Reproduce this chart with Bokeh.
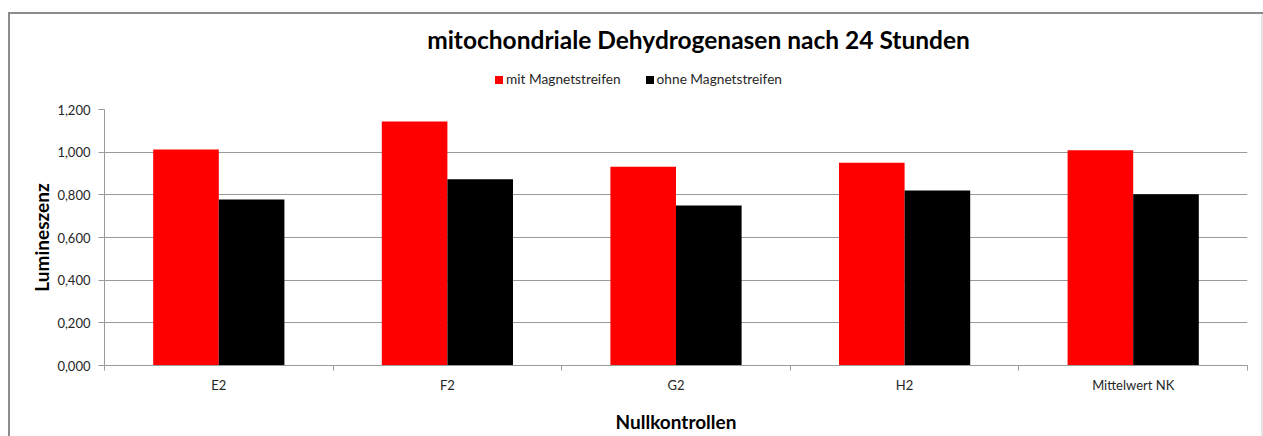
from bokeh.plotting import figure
from bokeh.models import (Range1d, LinearAxis, FixedTicker, ColumnDataSource, Div)
from bokeh.layouts import column
from bokeh.transform import dodge
from bokeh.embed import file_html
from bokeh.resources import INLINE

categories = ["E2", "F2", "G2", "H2", "Mittelwert NK"]
mit_magnet = [1.012, 1.144, 0.932, 0.950, 1.009]
ohne_magnet = [0.778, 0.873, 0.750, 0.820, 0.803]
series_names = ["mit Magnetstreifen", "ohne Magnetstreifen"]
series_colors = ["#FF0000", "#000000"]
y_ticks = [0.0, 0.2, 0.4, 0.6, 0.8, 1.0, 1.2]
y_tick_labels = ["0,000", "0,200", "0,400", "0,600", "0,800", "1,000", "1,200"]
title_text = "mitochondriale Dehydrogenasen nach 24 Stunden"
x_title = "Nullkontrollen"
y_title = "Lumineszenz"

FONT = "Lato"
TXT = "#262626"
GRID = "#9a9a9a"
HEAD_H = 99

n = len(categories)
centers = [i + 0.5 for i in range(n)]
boundaries = list(range(n + 1))
src = ColumnDataSource(dict(x=centers, cat=categories, mit=mit_magnet, ohne=ohne_magnet))

# ---- header: title + legend (HTML text) ----
legend_html = ""
for i, (name, col) in enumerate(zip(series_names, series_colors)):
    ml = "0px" if i == 0 else "25px"
    legend_html += (f'<span style="display:inline-block;width:8px;height:8px;background:{col};'
                    f'margin-left:{ml};margin-right:3px;vertical-align:0px"></span>{name}')
head_html = (
    f'<div style="position:relative;width:1263px;height:{HEAD_H}px;margin:0;padding:0">'
    f'<div style="position:absolute;left:0;top:25px;width:1263px;box-sizing:border-box;'
    f'padding-left:134px;text-align:center;font-family:{FONT};font-weight:bold;font-size:24.5px;'
    f'line-height:30px;color:#000000;white-space:nowrap">{title_text}</div>'
    f'<div style="position:absolute;left:495px;top:71px;font-family:{FONT};font-size:13.7px;'
    f'line-height:16px;color:{TXT};white-space:nowrap">{legend_html}</div>'
    f'</div>'
)
head = Div(text=head_html, width=1263, height=HEAD_H, margin=0)

p = figure(width=1263, height=436 - HEAD_H, x_range=Range1d(0, n), y_range=Range1d(0, 1.2),
           output_backend="svg", toolbar_location=None,
           x_axis_location=None, y_axis_location=None,
           min_border_left=104, min_border_right=16, min_border_top=10, min_border_bottom=71)
p.margin = 0
p.outline_line_color = None
p.border_fill_color = None
p.background_fill_color = "#ffffff"
p.xgrid.visible = False
p.ygrid.ticker = FixedTicker(ticks=y_ticks)
p.ygrid.grid_line_color = GRID
p.ygrid.grid_line_width = 1

r1 = p.vbar(x=dodge("x", -0.1435), top="mit", width=0.287, source=src,
            fill_color=series_colors[0], line_color=None)
r2 = p.vbar(x=dodge("x", 0.1435), top="ohne", width=0.287, source=src,
            fill_color=series_colors[1], line_color=None)

# y axis
yax = LinearAxis(ticker=FixedTicker(ticks=y_ticks),
                 major_label_overrides={t: l for t, l in zip(y_ticks, y_tick_labels)})
yax.axis_line_color = GRID
yax.major_tick_line_color = GRID
yax.major_tick_out = 6
yax.major_tick_in = 0
yax.minor_tick_line_color = None
yax.major_label_standoff = 8
yax.major_label_text_font = FONT
yax.major_label_text_font_size = "13px"
yax.major_label_text_color = TXT
yax.axis_label = y_title
yax.axis_label_text_font = FONT
yax.axis_label_text_font_size = "19px"
yax.axis_label_text_font_style = "bold"
yax.axis_label_text_color = "#000000"
yax.axis_label_standoff = 1
p.add_layout(yax, "left")

# boundary ticks axis
nax = LinearAxis(ticker=FixedTicker(ticks=boundaries))
nax.axis_line_color = GRID
nax.major_tick_line_color = GRID
nax.major_tick_out = 5
nax.major_tick_in = 0
nax.minor_tick_line_color = None
nax.major_label_text_font_size = "0px"
nax.major_label_text_alpha = 0
nax.major_label_standoff = 0
p.add_layout(nax, "below")

# category label axis
cax = LinearAxis(ticker=FixedTicker(ticks=centers),
                 major_label_overrides={c: l for c, l in zip(centers, categories)})
cax.axis_line_color = None
cax.major_tick_line_color = None
cax.minor_tick_line_color = None
cax.major_tick_out = 0
cax.major_label_standoff = 6
cax.major_label_text_font = FONT
cax.major_label_text_font_size = "13px"
cax.major_label_text_color = TXT
cax.axis_label = x_title
cax.axis_label_text_font = FONT
cax.axis_label_text_font_size = "19px"
cax.axis_label_text_font_style = "bold"
cax.axis_label_text_color = "#000000"
cax.axis_label_standoff = 14
p.add_layout(cax, "below")

layout = column(head, p, spacing=0)
layout.styles = {"box-shadow": "inset 8px 12px 0 0 #ffffff, inset 10px 14px 0 0 #8c8c8c, inset -2px 0 0 0 #e4e4e4",
                 "background-color": "#ffffff"}

open("out.html", "w").write(file_html(layout, INLINE))
